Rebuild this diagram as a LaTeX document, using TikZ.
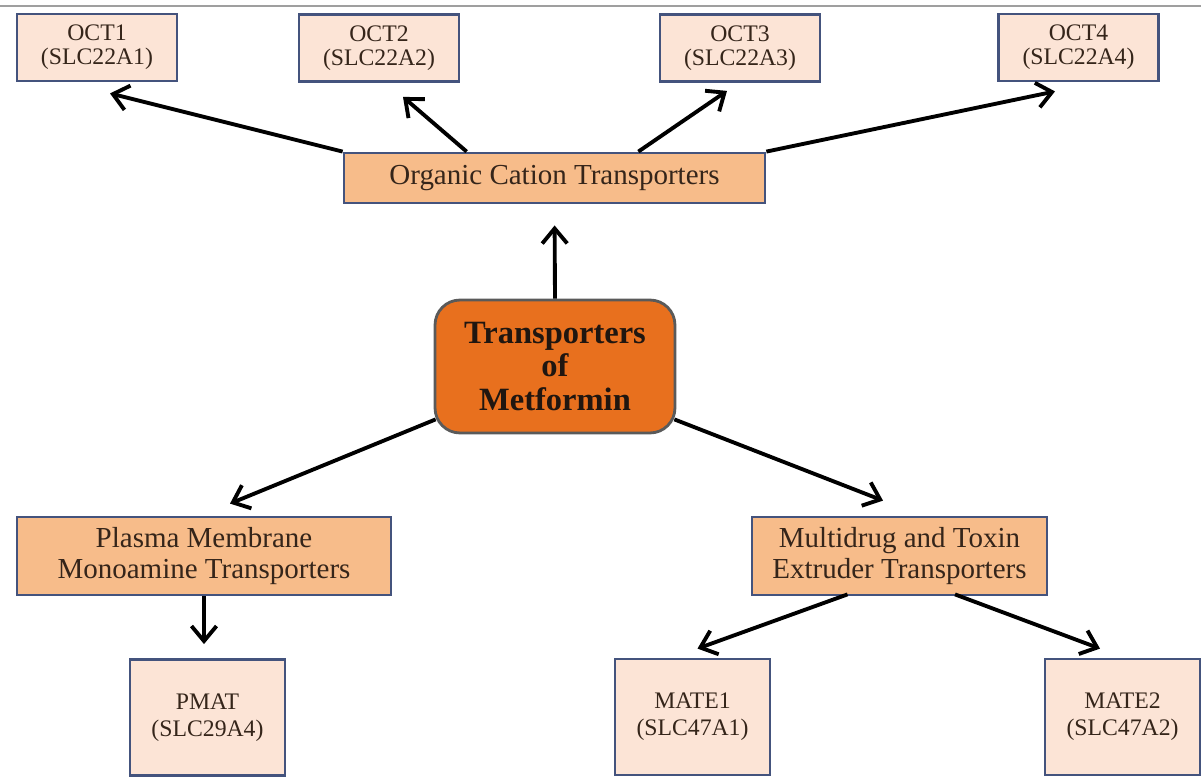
\documentclass[tikz,border=0pt]{standalone}
\usepackage{fontspec}
\setmainfont{Liberation Serif}
\usepackage{xcolor}
\definecolor{boxline}{HTML}{44537D}
\definecolor{leaffill}{HTML}{FCE4D6}
\definecolor{midfill}{HTML}{F7BC8A}
\definecolor{hubfill}{HTML}{E8701E}
\definecolor{hubline}{HTML}{5A5A5A}
\definecolor{txt}{HTML}{35251A}
\usetikzlibrary{arrows.meta,calc}

\begin{document}
\begin{tikzpicture}[x=0.02cm,y=-0.02cm,>={Straight Barb[length=3mm,width=5mm]},line width=2.2pt]
    \tikzstyle{leaf}=[draw=boxline,fill=leaffill,line width=1.6pt,text=txt,align=center,inner sep=0pt,minimum width=3.2cm,minimum height=1.34cm,font=\fontsize{13.5}{13.5}\selectfont]
    \tikzstyle{leaf2}=[leaf,minimum width=3.1cm,minimum height=2.32cm,font=\fontsize{13.5}{15.5}\selectfont]
    \tikzstyle{mid}=[draw=boxline,fill=midfill,line width=1.6pt,text=txt,align=center,inner sep=0pt,minimum height=1.56cm,font=\fontsize{16.5}{18}\selectfont]
    \tikzstyle{hub}=[draw=hubline,fill=hubfill,line width=1.6pt,rounded corners=0.5cm,text=txt!60!black,align=center,inner sep=0pt,minimum width=4.8cm,minimum height=2.66cm,font=\fontsize{18.5}{19}\selectfont\bfseries]
    \tikzstyle{link}=[->,black]

    \useasboundingbox (0,0) rectangle (1201,777);
    \draw[line width=1.2pt,color=gray!75] (0,6) -- (1201,6);

    % top row
    \node[leaf] (oct1) at (97,47.5)   {OCT1\\(SLC22A1)};
    \node[leaf] (oct2) at (379,48)    {OCT2\\(SLC22A2)};
    \node[leaf] (oct3) at (740,48)    {OCT3\\(SLC22A3)};
    \node[leaf] (oct4) at (1078.5,47.5) {OCT4\\(SLC22A4)};

    \node[mid,minimum width=8.42cm,minimum height=1cm] (octs) at (554.5,178) {Organic Cation Transporters};
    \node[hub] (hub) at (555,366.5) {Transporters\\of\\Metformin};

    % lower part
    \node[mid,minimum width=7.48cm] (pmmt) at (204,556) {Plasma Membrane\\Monoamine Transporters};
    \node[mid,minimum width=5.9cm]  (mates) at (899.5,556) {Multidrug and Toxin\\Extruder Transporters};

    \node[leaf2] (pmat)  at (207.5,717.5) {PMAT\\(SLC29A4)};
    \node[leaf2] (mate1) at (692.5,717)   {MATE1\\(SLC47A1)};
    \node[leaf2] (mate2) at (1122.5,717)  {MATE2\\(SLC47A2)};

    % arrows
    \draw[link] (octs.north west) -- ($(oct1.south)+(13,11)$);
    \draw[link] ($(octs.north west)+(124,0)$) -- ($(oct2.south)+(24,14)$);
    \draw[link] ($(octs.north east)-(128,0)$) -- ($(oct3.south)+(-13,8)$);
    \draw[link] (octs.north east) -- ($(oct4.south)+(-23.5,9)$);
    \draw[link,shorten >=12] (hub.north) -- (octs.south);
    \draw[link] ($(hub.south west)+(2,-15)$) -- ($(pmmt.north)+(26,-12)$);
    \draw[link] ($(hub.south east)+(-2,-15)$) -- ($(mates.north)+(-16.5,-15)$);
    \draw[link,shorten >=8] (pmmt.south) -- (pmmt.south |- pmat.north);
    \draw[link] ($(mates.south)+(-52,-2)$) -- ($(mate1.north)+(5,-9)$);
    \draw[link] ($(mates.south)+(55.5,-2)$) -- ($(mate2.north)+(-22.5,-9)$);
\end{tikzpicture}
\end{document}
